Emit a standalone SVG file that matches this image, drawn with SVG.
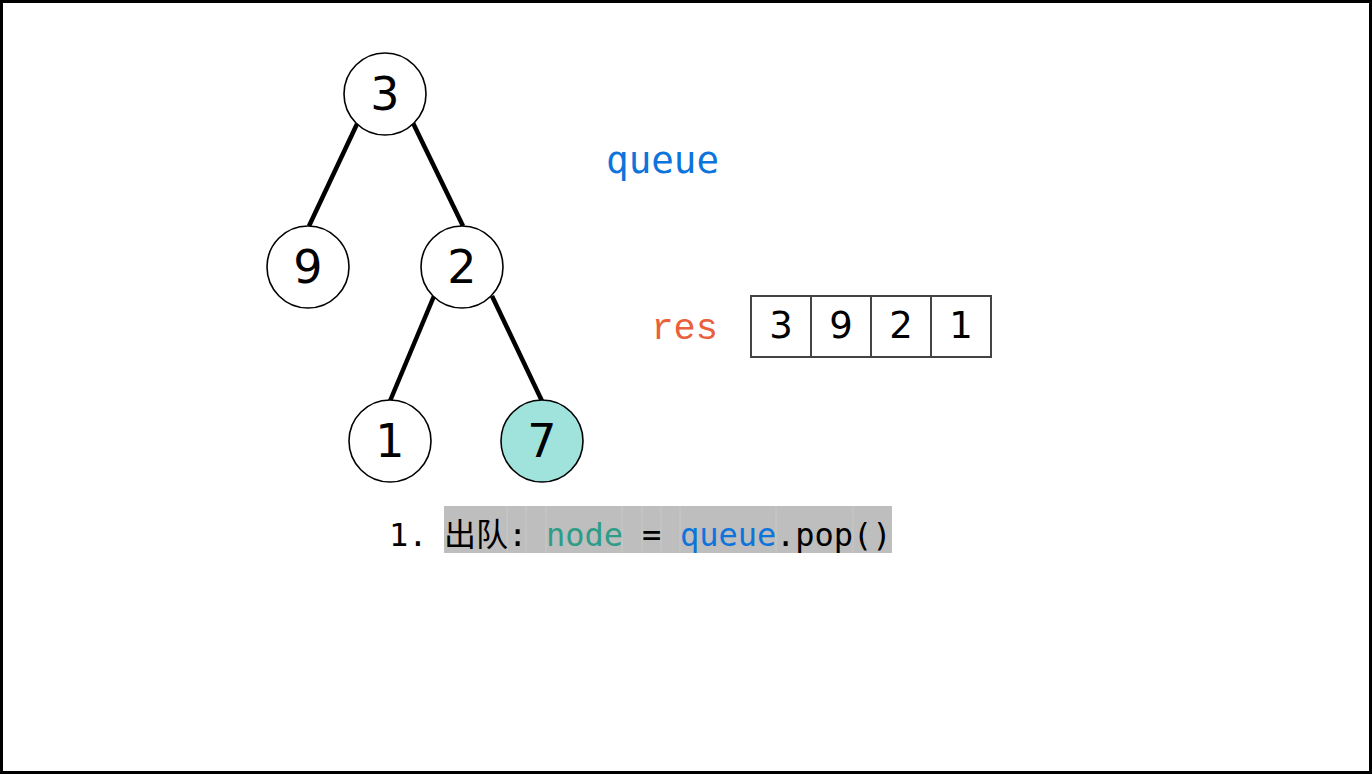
<svg xmlns="http://www.w3.org/2000/svg" width="1372" height="774" viewBox="0 0 1372 774">
<style>
.node circle{fill:#fff;stroke:#000;stroke-width:1.6}
.node text{font-family:"DejaVu Sans",sans-serif;font-size:46px;text-anchor:middle;fill:#000}
.edge{stroke:#000;stroke-width:4.5;stroke-linecap:butt}
.cell rect{fill:#fff;stroke:#444;stroke-width:2}
.cell text{font-family:"DejaVu Sans",sans-serif;font-size:37px;text-anchor:middle;fill:#000}
.mono{font-family:"DejaVu Sans Mono","Noto Sans CJK SC",monospace}
.sep{stroke:#c9c9c9;stroke-width:1}
</style>
<rect x="1.5" y="1.5" width="1369" height="771" fill="#fff" stroke="#000" stroke-width="3"/>
<g id="connectors">
<line class="edge" x1="357" y1="124" x2="309" y2="226"/>
<line class="edge" x1="413" y1="123" x2="463" y2="226"/>
<line class="edge" x1="434" y1="296" x2="390" y2="401"/>
<line class="edge" x1="492" y1="296" x2="542" y2="401"/>
</g>
<g id="n3" class="node"><circle cx="385" cy="94" r="41"/><text x="385" y="110">3</text></g>
<g id="n9" class="node"><circle cx="308" cy="267" r="41"/><text x="308" y="283">9</text></g>
<g id="n2" class="node"><circle cx="462" cy="267" r="41"/><text x="462" y="283">2</text></g>
<g id="n1" class="node"><circle cx="390" cy="441" r="41"/><text x="390" y="457">1</text></g>
<g id="n7" class="node"><circle cx="542" cy="441" r="41" style="fill:#9fe3dc"/><text x="542" y="457">7</text></g>
<text id="queue-label" class="mono" x="719" y="173" font-size="37.5" fill="#0d74dc" text-anchor="end">queue</text>
<text id="res-label" x="718" y="339" font-family="'Liberation Mono',monospace" font-size="37" fill="#e8603c" text-anchor="end">res</text>
<g id="res">
<g class="cell"><rect x="751" y="296" width="60" height="61"/><text x="781" y="338">3</text></g>
<g class="cell"><rect x="811" y="296" width="60" height="61"/><text x="841" y="338">9</text></g>
<g class="cell"><rect x="871" y="296" width="60" height="61"/><text x="901" y="338">2</text></g>
<g class="cell"><rect x="931" y="296" width="60" height="61"/><text x="961" y="338">1</text></g>
</g>
<g id="code">
<rect x="444" y="506" width="448" height="47" fill="#bebebe"/>
<line class="sep" x1="507" y1="506" x2="507" y2="553"/>
<line class="sep" x1="526" y1="506" x2="526" y2="553"/>
<line class="sep" x1="546" y1="506" x2="546" y2="553"/>
<line class="sep" x1="622" y1="506" x2="622" y2="553"/>
<line class="sep" x1="642" y1="506" x2="642" y2="553"/>
<line class="sep" x1="661" y1="506" x2="661" y2="553"/>
<line class="sep" x1="680" y1="506" x2="680" y2="553"/>
<line class="sep" x1="776" y1="506" x2="776" y2="553"/>
<line class="sep" x1="853" y1="506" x2="853" y2="553"/>
<text class="mono" font-size="32" y="546" fill="#000"><tspan x="389">1.</tspan><tspan x="444">出队:</tspan><tspan x="546" fill="#2e9c87">node</tspan><tspan x="642">=</tspan><tspan x="680" fill="#0d74dc">queue</tspan><tspan x="776">.pop()</tspan></text>
</g>
</svg>
